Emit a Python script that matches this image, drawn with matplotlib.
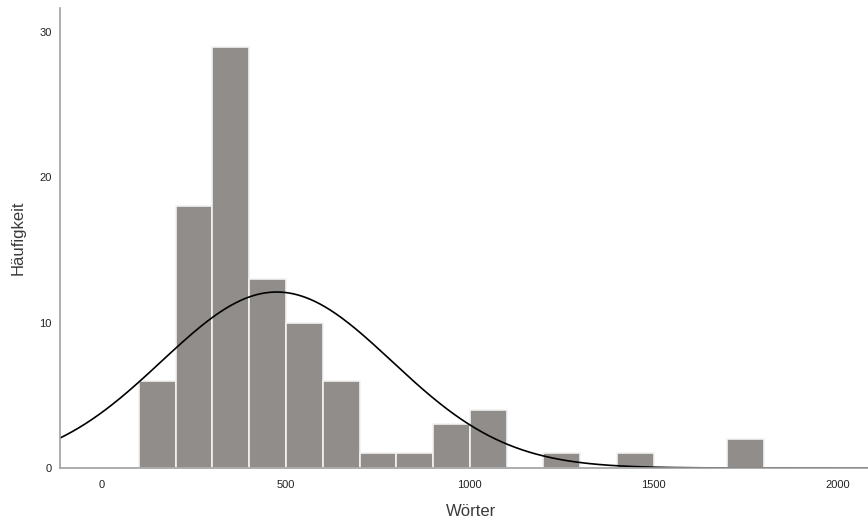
import numpy as np
import matplotlib
matplotlib.use("Agg")
import matplotlib.pyplot as plt

plt.rcParams['font.family'] = ['Liberation Sans', 'DejaVu Sans']

# histogram: bin edges (Wörter) and counts
bin_left = [100, 200, 300, 400, 500, 600, 700, 800, 900, 1000, 1200, 1400, 1700]
counts = [6, 18, 29, 13, 10, 6, 1, 1, 3, 4, 1, 1, 2]
bin_width = 100

# normal curve parameters
mean_w = 475
sd_w = 313
n_total = sum(counts)

x_ticks = [0, 500, 1000, 1500, 2000]
y_ticks = [0, 10, 20, 30]

fig = plt.figure(figsize=(8.68, 5.24), dpi=100)
ax = fig.add_axes([60 / 868, 1 - 468 / 524, 1 - 60 / 868, 460 / 524])

ax.bar(bin_left, counts, width=bin_width, align='edge',
       color='#918d8b', edgecolor='#f2f2f2', linewidth=1.2)

xs = np.linspace(-120, 2090, 600)
ys = n_total * bin_width / (sd_w * np.sqrt(2 * np.pi)) * np.exp(-0.5 * ((xs - mean_w) / sd_w) ** 2)
ax.plot(xs, ys, color='black', linewidth=1.2)

ax.set_xlim(-114, 2082)
ax.set_ylim(0, 31.65)
ax.set_xticks(x_ticks)
ax.set_yticks(y_ticks)
ax.tick_params(length=0, labelsize=8, colors='#222222')
ax.tick_params(axis='x', pad=9)
ax.tick_params(axis='y', pad=6)

for s in ['top', 'right']:
    ax.spines[s].set_visible(False)
for s in ['left', 'bottom']:
    ax.spines[s].set_color('#a0a0a0')
    ax.spines[s].set_linewidth(1.2)

ax.set_xlabel('Wörter', fontsize=12, color='#3a3a3a', labelpad=10)
ax.set_ylabel('Häufigkeit', fontsize=12, color='#3a3a3a', labelpad=10)
ax.xaxis.set_label_coords(0.5087, -0.078)

fig.savefig('out.png', dpi=100)
